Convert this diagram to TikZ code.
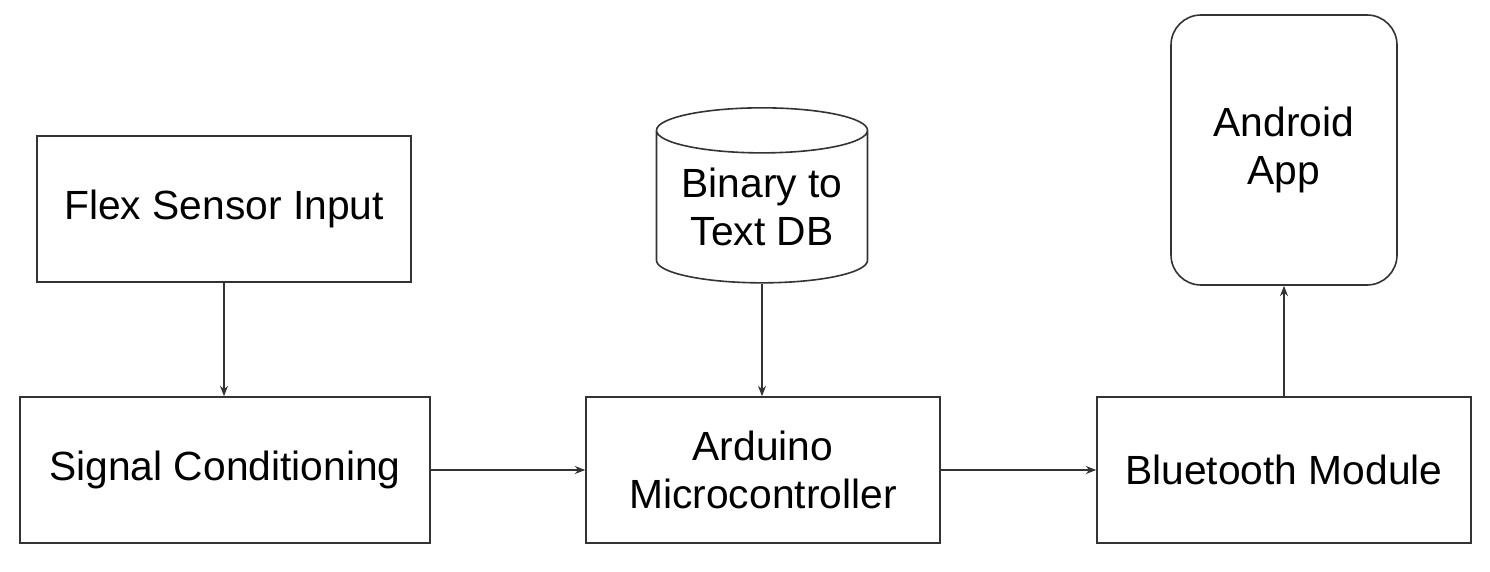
\documentclass[tikz,border=0pt]{standalone}
\usepackage{fontspec}
\setmainfont{Liberation Sans}
\usetikzlibrary{positioning,shapes.geometric,arrows.meta}

\tikzset{
    blk/.style={rectangle,draw=black!80,line width=0.4mm,minimum height=36.5mm,anchor=center,align=center,inner sep=0pt},
    flow/.style={draw=black!80,line width=0.35mm,-{Stealth[length=2.6mm,width=2mm]}}
}

\begin{document}
\begin{tikzpicture}[x=5mm,y=5mm,font=\fontsize{29pt}{34pt}\selectfont]
        \useasboundingbox (0,0) rectangle (74.5,-28.6);
        \node[blk,minimum width = 93.5mm] at (11.2,-10.45) (FL) {Flex Sensor Input};
        \node[blk,minimum width = 102.5mm] at (11.25,-23.5) (SC) {Signal Conditioning};
        \node[blk,minimum width = 88.5mm] at (38.15,-23.5) (AR) {Arduino\\Microcontroller};
        \node[blk,minimum width = 93.5mm] at (64.2,-23.5) (BT) {Bluetooth Module};
        \node[blk,rounded corners=7.5mm,minimum width = 56.5mm,minimum height = 67.5mm] at (64.2,-7.5) (AA) {Android\\App};
        \node[cylinder,shape border rotate=90,shape aspect=0.28,draw=black!80,line width=0.4mm,minimum width = 52.75mm,minimum height = 43.75mm,align=center,inner sep=0pt,anchor=center] at (38.1,-10.35) (DB) {Binary to\\Text DB};
        \draw [flow] (FL)--(FL |- SC.north);
        \draw [flow] (SC)--(AR);
        \draw [flow] (DB.bottom)--(DB.bottom |- AR.north);
        \draw [flow] (AR)--(BT);
        \draw [flow] (BT)--(AA);
    \end{tikzpicture}
\end{document}
